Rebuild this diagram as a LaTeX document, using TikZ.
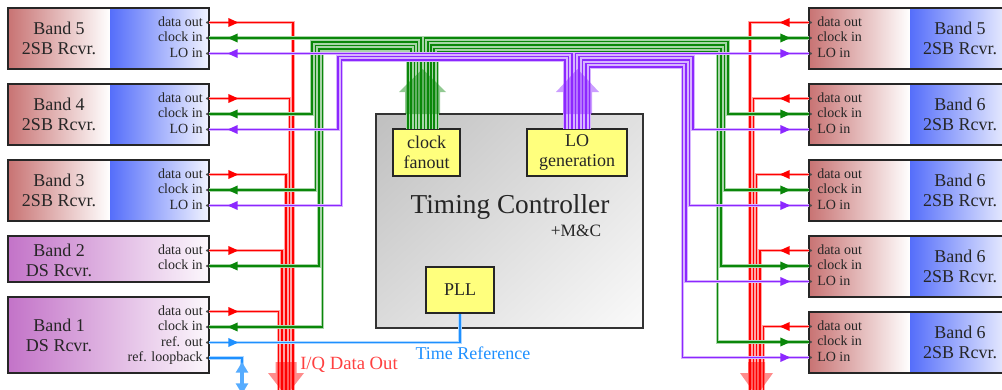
\documentclass[tikz,border=0pt]{standalone}
\usepackage{fontspec}
\setmainfont{Liberation Serif}
\usetikzlibrary{decorations.markings,arrows.meta,shadings}

\definecolor{dred}{RGB}{255,0,0}
\definecolor{cgreen}{RGB}{10,135,10}
\definecolor{lopurple}{RGB}{140,40,255}
\definecolor{refblue}{RGB}{30,144,255}
\definecolor{bandred}{RGB}{200,115,115}
\definecolor{bandblue}{RGB}{85,110,250}
\definecolor{bandpurple}{RGB}{195,115,200}
\definecolor{boxyellow}{RGB}{255,255,125}

\begin{document}
\begin{tikzpicture}[x=0.75pt, y=-0.75pt,
  boxline/.style={draw=black!85, line width=1.3pt},
  bandtext/.style={align=center, text=black!85, font=\fontsize{13.5}{15}\selectfont},
  lport/.style={anchor=east, inner sep=0pt, text height=1.5ex, text depth=.25ex, text=black!85, font=\fontsize{10.5}{12}\selectfont},
  rport/.style={lport, anchor=west},
  ybox/.style={rectangle, draw=black!85, line width=1.2pt, fill=boxyellow, align=center, inner sep=0pt, text=black!85, font=\fontsize{13.5}{15}\selectfont},
  tcbox/.style={rectangle, draw=black!80, line width=1.4pt, upper left=black!25, upper right=black!12, lower left=black!14, lower right=black!2},
  wire/.style={draw=#1, line width=1.1pt, preaction={draw=#1!35, line width=2.7pt}},
  outtip/.style={postaction={decorate, decoration={markings, mark=at position 22pt with {\arrow{Triangle[length=7.5pt, width=6.5pt]}}}}},
  intip/.style={postaction={decorate, decoration={markings, mark=at position 14pt with {\arrowreversed{Triangle[length=7.5pt, width=6.5pt]}}}}},
  bigarrow/.style={fill=#1, opacity=.45}]
  \useasboundingbox (0,0) rectangle (1002,389);
  \clip (0,0) rectangle (1002,389);

  % receivers on the left
  \foreach \row/\tp/\bn in {1/8/5,2/84/4,3/160/3}{
    \shade[left color=bandred, right color=white] (8,\tp) rectangle (110,\tp+61);
    \shade[left color=bandblue, right color=bandblue!8] (110,\tp) rectangle (209,\tp+61);
    \draw[boxline] (8,\tp) rectangle (209,\tp+61);
    \node[bandtext] at (59,\tp+30.5) {Band \bn\\2SB Rcvr.};
    \node[lport] at (203,\tp+14.5) {data out};
    \node[lport] at (203,\tp+30) {clock in};
    \node[lport] at (203,\tp+45.5) {LO in};
    \coordinate (L\row d) at (209,\tp+14.5);
    \coordinate (L\row c) at (209,\tp+30);
    \coordinate (L\row o) at (209,\tp+45.5);
  }
  \shade[left color=bandpurple, right color=bandpurple!5] (8,236) rectangle (209,282);
  \draw[boxline] (8,236) rectangle (209,282);
  \node[bandtext] at (59,260) {Band 2\\DS Rcvr.};
  \node[lport] at (203,250.5) {data out};
  \node[lport] at (203,266) {clock in};
  \coordinate (L4d) at (209,250.5);
  \coordinate (L4c) at (209,266);
  \shade[left color=bandpurple, right color=bandpurple!5] (8,297) rectangle (209,373);
  \draw[boxline] (8,297) rectangle (209,373);
  \node[bandtext] at (59,335.5) {Band 1\\DS Rcvr.};
  \node[lport] at (203,311.5) {data out};
  \node[lport] at (203,327) {clock in};
  \node[lport] at (203,342.5) {ref. out};
  \node[lport] at (203,358) {ref. loopback};
  \coordinate (L5d) at (209,311.5);
  \coordinate (L5c) at (209,327);
  \coordinate (L5r) at (209,342.5);
  \coordinate (L5l) at (209,358);

  % receivers on the right
  \foreach \row/\tp/\bn in {1/8/5,2/84/6,3/160/6,4/236/6,5/312/6}{
    \shade[left color=bandred, right color=white] (809,\tp) rectangle (910,\tp+61);
    \shade[left color=bandblue, right color=bandblue!8] (910,\tp) rectangle (1012,\tp+61);
    \draw[boxline] (809,\tp) rectangle (1012,\tp+61);
    \node[bandtext] at (960,\tp+30.5) {Band \bn\\2SB Rcvr.};
    \node[rport] at (817,\tp+14.5) {data out};
    \node[rport] at (817,\tp+30) {clock in};
    \node[rport] at (817,\tp+45.5) {LO in};
    \coordinate (R\row d) at (809,\tp+14.5);
    \coordinate (R\row c) at (809,\tp+30);
    \coordinate (R\row o) at (809,\tp+45.5);
  }

  % timing controller
  \node[tcbox, minimum width=200.25pt, minimum height=160.5pt] (tc) at (509.5,221) {};
  \node[font=\fontsize{20.5}{24}\selectfont, text=black!85] (tctitle) at (510,207) {Timing Controller};
  \node[font=\fontsize{13}{15}\selectfont, text=black!85] (mc) at (576,231) {+M\&C};
  \node[ybox, minimum width=50.25pt, minimum height=35.25pt] (fanout) at (426.5,152.5) {clock\\fanout};
  \node[ybox, minimum width=75pt, minimum height=35.25pt] (logen) at (577,152.5) {LO\\generation};
  \node[ybox, minimum width=51pt, minimum height=34.5pt] (pll) at (460,290) {PLL};

  \foreach \i/\x in {1/420.8,2/417.6,3/414.4,4/411.2,5/408}
    \coordinate (cf\i) at (\x,129);
  \foreach \i/\x in {1/424.6,2/427.8,3/431,4/434.2,5/437.4}
    \coordinate (cg\i) at (\x,129);
  \foreach \i/\x in {1/572,2/568.5,3/565}
    \coordinate (lf\i) at (\x,129);
  \foreach \i/\x in {1/575.5,2/579,3/582.5,4/586,5/589.5}
    \coordinate (lg\i) at (\x,129);

  % data out
  \foreach \row/\bx in {1/293,2/289.4,3/285.8,4/282.2,5/278.6}
    \draw[wire=dred, outtip] (L\row d) -| (\bx,396);
  \foreach \row/\bx in {1/750,2/753.3,3/756.6,4/760,5/763.3}
    \draw[wire=dred, outtip] (R\row d) -| (\bx,396);

  % clock
  \draw[wire=cgreen, intip] (L1c) -| (cf1);
  \foreach \row/\cx/\ty in {2/312/42,3/315.5/45.5,4/319/49,5/322.5/52.5}
    \draw[wire=cgreen, intip] (L\row c) -| (\cx,\ty) -| (cf\row);
  \draw[wire=cgreen, intip] (R1c) -| (cg1);
  \foreach \row/\cx/\ty in {2/728/41.5,3/724.5/45,4/721/48.5,5/717.5/52}
    \draw[wire=cgreen, intip] (R\row c) -| (\cx,\ty) -| (cg\row);

  % LO
  \draw[wire=lopurple, intip] (L1o) -| (lf1);
  \foreach \row/\cx/\ty in {2/338/56.5,3/341.5/60}
    \draw[wire=lopurple, intip] (L\row o) -| (\cx,\ty) -| (lf\row);
  \draw[wire=lopurple, intip] (R1o) -| (lg1);
  \foreach \row/\cx/\ty in {2/693/56.5,3/689.5/60,4/686/63.5,5/682.5/67}
    \draw[wire=lopurple, intip] (R\row o) -| (\cx,\ty) -| (lg\row);

  \fill[bigarrow=cgreen] (405,114) -- (405,92) -- (399,92) -- (422.5,69) -- (446,92) -- (440,92) -- (440,114) -- cycle;
  \fill[bigarrow=lopurple] (563,114) -- (563,92) -- (556,92) -- (577.5,69) -- (599,92) -- (592,92) -- (592,114) -- cycle;
  \fill[bigarrow=dred] (275.5,362) -- (296.5,362) -- (296.5,373) -- (304,373) -- (286,396) -- (268,373) -- (275.5,373) -- cycle;
  \fill[bigarrow=dred] (748,362) -- (765,362) -- (765,373) -- (773,373) -- (756.5,396) -- (740,373) -- (748,373) -- cycle;

  % reference
  \draw[wire=refblue, outtip] (L5r) -| (pll.south);
  \coordinate (loop) at (242,366);
  \draw[wire=refblue] (L5l) -| (loop);
  \draw[refblue!75, line width=3pt, {Triangle[length=8pt, width=9pt]}-{Triangle[length=8pt, width=9pt]}] (loop) ++(0,-4) -- (242,394);
  \node[font=\fontsize{14}{16}\selectfont, text=red!75] (iq) at (349,365) {I/Q Data Out};
  \node[font=\fontsize{13.5}{16}\selectfont, text=refblue] (tref) at (473,353) {Time Reference};

  % port dots
  \foreach \p in {L1d,L1c,L1o,L2d,L2c,L2o,L3d,L3c,L3o,L4d,L4c,L5d,L5c,L5r,L5l}
    \fill[black!70] ([xshift=-1.3pt]\p) circle (1.1pt);
  \foreach \p in {R1d,R1c,R1o,R2d,R2c,R2o,R3d,R3c,R3o,R4d,R4c,R4o,R5d,R5c,R5o}
    \fill[black!70] ([xshift=1.3pt]\p) circle (1.1pt);
\end{tikzpicture}
\end{document}
